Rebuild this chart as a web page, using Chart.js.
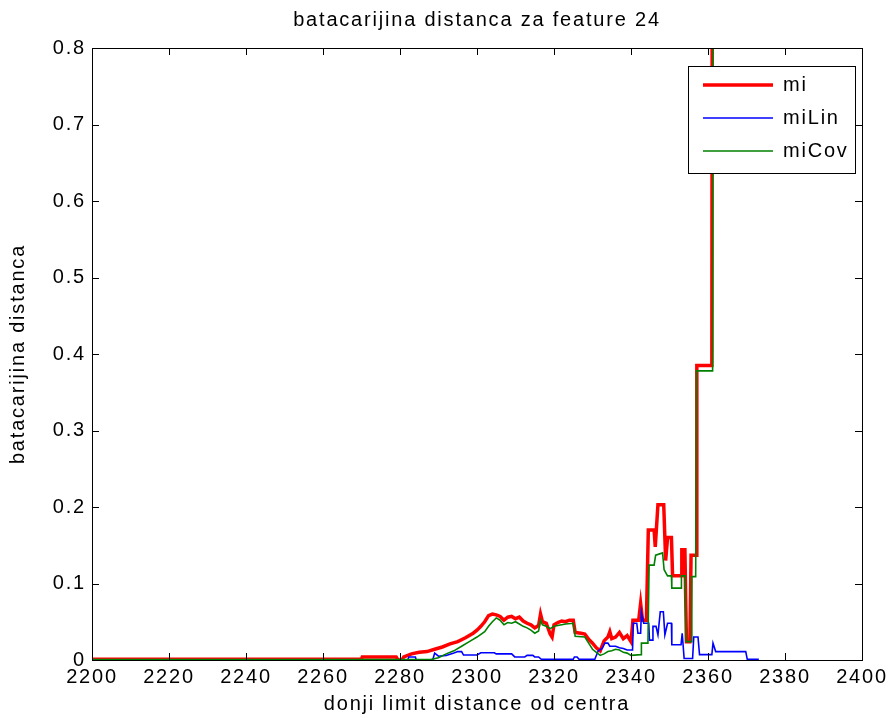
<!DOCTYPE html>
<html>
<head>
<meta charset="utf-8">
<script src="https://cdn.jsdelivr.net/npm/chart.js@4.4.1/dist/chart.umd.min.js"></script>
<style>
  html, body { margin: 0; padding: 0; background: #fff; }
  #wrap { width: 896px; height: 718px; }
</style>
</head>
<body>
<div id="wrap"><canvas id="myChart" width="896" height="718"></canvas></div>
<script>
// data
const seriesNames = ['mi', 'miLin', 'miCov'];
const seriesColors = ['#ff0000', '#0000ff', '#008000'];

const miX = [2200, 2270, 2270.2, 2279, 2279.5, 2280.5, 2281, 2283, 2285, 2287, 2289, 2291, 2293, 2295, 2297, 2299,
  2300, 2301, 2302, 2303, 2304, 2305, 2306, 2307, 2308, 2309, 2310, 2311, 2312, 2313, 2314, 2315, 2316, 2316.5,
  2317, 2318, 2319, 2319.5, 2320, 2321, 2322, 2323, 2324, 2325, 2325.5, 2327, 2328, 2329, 2330, 2331, 2332, 2333,
  2334, 2334.5, 2335, 2336, 2337, 2338, 2339, 2340, 2340.5, 2342, 2342.5, 2343, 2344, 2344.5, 2346, 2346.3, 2347,
  2348.5, 2349, 2349.5, 2350.5, 2350.8, 2353, 2353.2, 2354, 2354.4, 2355.3, 2355.6, 2357, 2357.1, 2361, 2361.1];
const miY = [0.001, 0.001, 0.004, 0.004, 0, 0, 0.004, 0.008, 0.01, 0.011, 0.014, 0.017, 0.021, 0.024, 0.029, 0.035,
  0.039, 0.044, 0.05, 0.058, 0.06, 0.059, 0.057, 0.052, 0.056, 0.057, 0.054, 0.056, 0.051, 0.048, 0.046, 0.042, 0.045, 0.06,
  0.05, 0.048, 0.034, 0.03, 0.046, 0.049, 0.051, 0.05, 0.052, 0.052, 0.036, 0.035, 0.034, 0.027, 0.022, 0.016, 0.012, 0.025,
  0.03, 0.037, 0.028, 0.03, 0.036, 0.028, 0.032, 0.024, 0.052, 0.052, 0.074, 0.052, 0.052, 0.17, 0.17, 0.148, 0.203,
  0.203, 0.13, 0.16, 0.16, 0.11, 0.11, 0.144, 0.144, 0.024, 0.024, 0.137, 0.137, 0.385, 0.385, 0.95];

const linX = [2200, 2282, 2282.3, 2284, 2284.2, 2288.5, 2289, 2290, 2292, 2294, 2295, 2296, 2296.5, 2300, 2301, 2304.5,
  2305, 2309, 2309.8, 2312.4, 2313, 2314.5, 2315, 2316, 2316.7, 2325, 2325.3, 2326, 2326.5, 2330.6, 2331.5, 2332.5,
  2333.2, 2334, 2334.5, 2336, 2337, 2338, 2339, 2340.4, 2340.6, 2341.5, 2341.8, 2342.5, 2342.7, 2343.3, 2344.6, 2344.8,
  2345.5, 2345.7, 2346.5, 2347, 2347.6, 2348.4, 2348.8, 2349.5, 2350.5, 2350.6, 2353, 2353.3, 2353.8, 2356, 2356.3,
  2357.4, 2357.8, 2361, 2361.3, 2362, 2369.8, 2370.2, 2373.2];
const linY = [0, 0, 0.004, 0.004, 0, 0, 0.009, 0.005, 0.006, 0.009, 0.011, 0.011, 0.0065, 0.0065, 0.0095, 0.0095,
  0.008, 0.008, 0.004, 0.004, 0.006, 0.006, 0.004, 0.004, 0.001, 0.001, 0.004, 0.004, 0.001, 0.001, 0.012, 0.015,
  0.022, 0.022, 0.018, 0.018, 0.016, 0.015, 0.013, 0.013, 0.048, 0.048, 0.035, 0.035, 0.063, 0.048, 0.048, 0.026,
  0.026, 0.044, 0.044, 0.033, 0.063, 0.063, 0.033, 0.048, 0.048, 0.02, 0.02, 0.035, 0.002, 0.002, 0.03,
  0.03, 0.007, 0.007, 0.022, 0.011, 0.011, 0.001, 0.001];

const covX = [2200, 2288, 2290, 2292, 2294, 2296, 2298, 2300, 2302, 2303, 2304, 2305, 2306, 2307, 2308, 2309, 2310,
  2311, 2312, 2313, 2314, 2315, 2316, 2316.5, 2317, 2318, 2319, 2320, 2321, 2322, 2323, 2325, 2325.5, 2328, 2329,
  2330, 2331, 2332, 2333, 2334, 2335, 2336, 2337, 2338, 2339, 2340, 2342.6, 2342.7, 2344.4, 2344.7, 2346, 2346.4,
  2348.2, 2348.6, 2349.5, 2350.5, 2350.6, 2353, 2353.1, 2354.1, 2354.3, 2355.6, 2355.8, 2356.8, 2357, 2361.2, 2361.3];
const covY = [0.0005, 0.0005, 0.003, 0.008, 0.012, 0.018, 0.024, 0.03, 0.037, 0.044, 0.05, 0.055, 0.052, 0.046, 0.049, 0.048, 0.05,
  0.047, 0.044, 0.042, 0.039, 0.035, 0.038, 0.052, 0.046, 0.044, 0.041, 0.044, 0.045, 0.046, 0.047, 0.048, 0.031, 0.03, 0.022,
  0.014, 0.01, 0.006, 0.008, 0.011, 0.012, 0.014, 0.013, 0.01, 0.009, 0.006, 0.007, 0.022, 0.022, 0.124, 0.124, 0.137,
  0.14, 0.118, 0.11, 0.11, 0.094, 0.094, 0.11, 0.11, 0.024, 0.024, 0.109, 0.109, 0.378, 0.378, 0.95];

const xTicks = [2200, 2220, 2240, 2260, 2280, 2300, 2320, 2340, 2360, 2380, 2400];
const yTicks = [0, 0.1, 0.2, 0.3, 0.4, 0.5, 0.6, 0.7, 0.8];

const FONT = '"Liberation Sans", Arial, sans-serif';
const SPACING = '1.8px';

function pts(xs, ys) {
  return xs.map((x, i) => ({ x: x, y: ys[i] }));
}

// wider letter spacing, like the exported MATLAB figure
const spacingPlugin = {
  id: 'spacing',
  beforeUpdate(chart) { chart.ctx.letterSpacing = SPACING; },
  beforeLayout(chart) { chart.ctx.letterSpacing = SPACING; },
  beforeDraw(chart) { chart.ctx.letterSpacing = SPACING; }
};

// MATLAB-like box with inward ticks and legend
const boxPlugin = {
  id: 'box',
  afterDatasetsDraw(chart) {
    const { ctx, chartArea: a, scales } = chart;
    ctx.save();
    ctx.strokeStyle = '#000';
    ctx.lineWidth = 1;
    ctx.beginPath();
    const len = 7;
    xTicks.forEach(v => {
      const px = Math.round(scales.x.getPixelForValue(v)) + 0.5;
      ctx.moveTo(px, a.bottom); ctx.lineTo(px, a.bottom - len);
      ctx.moveTo(px, a.top); ctx.lineTo(px, a.top + len);
    });
    yTicks.forEach(v => {
      const py = Math.round(scales.y.getPixelForValue(v)) + 0.5;
      ctx.moveTo(a.left, py); ctx.lineTo(a.left + len, py);
      ctx.moveTo(a.right, py); ctx.lineTo(a.right - len, py);
    });
    ctx.stroke();
    ctx.strokeRect(Math.round(a.left) + 0.5, Math.round(a.top) + 0.5,
      Math.round(a.right - a.left), Math.round(a.bottom - a.top));

    const lx = 688, ly = 66, lw = 167, lh = 107;
    ctx.fillStyle = '#fff';
    ctx.fillRect(lx, ly, lw, lh);
    ctx.strokeRect(lx + 0.5, ly + 0.5, lw, lh);
    ctx.font = '20px ' + FONT;
    ctx.letterSpacing = SPACING;
    ctx.textBaseline = 'middle';
    chart.data.datasets.forEach((ds, i) => {
      const yy = ly + 19 + i * 33;
      ctx.strokeStyle = ds.borderColor;
      ctx.lineWidth = ds.borderWidth;
      ctx.beginPath();
      ctx.moveTo(lx + 15, yy); ctx.lineTo(lx + 85, yy);
      ctx.stroke();
      ctx.fillStyle = '#000';
      ctx.fillText(ds.label, lx + 95, yy);
    });
    ctx.restore();
  }
};

new Chart(document.getElementById('myChart'), {
  type: 'line',
  data: {
    datasets: [
      { label: seriesNames[0], data: pts(miX, miY), borderColor: seriesColors[0], borderWidth: 3.5, order: 3 },
      { label: seriesNames[1], data: pts(linX, linY), borderColor: seriesColors[1], borderWidth: 1.6, order: 2 },
      { label: seriesNames[2], data: pts(covX, covY), borderColor: seriesColors[2], borderWidth: 1.6, order: 1 }
    ]
  },
  options: {
    responsive: false,
    animation: false,
    elements: { point: { radius: 0 }, line: { tension: 0 } },
    layout: { padding: { left: 0, right: 34, top: 0, bottom: 0 } },
    plugins: {
      legend: { display: false },
      tooltip: { enabled: false },
      title: {
        display: true,
        fullSize: false,
        text: 'batacarijina distanca za feature 24',
        color: '#000',
        font: { family: FONT, size: 20, weight: 'normal' },
        padding: { top: 8, bottom: 16 }
      }
    },
    scales: {
      x: {
        type: 'linear',
        min: 2200, max: 2400,
        afterBuildTicks(s) { s.ticks = xTicks.map(v => ({ value: v })); },
        afterFit(s) { s.height = 58; },
        grid: { display: false, drawTicks: false },
        border: { display: false },
        ticks: { color: '#000', padding: 5, maxRotation: 0, font: { family: FONT, size: 20 },
          callback: v => String(v) },
        title: {
          display: true, text: 'donji limit distance od centra', color: '#000',
          font: { family: FONT, size: 20 }, padding: { top: 0, bottom: 2 }
        }
      },
      y: {
        type: 'linear',
        min: 0, max: 0.8,
        afterBuildTicks(s) { s.ticks = yTicks.map(v => ({ value: v })); },
        afterFit(s) { s.width = 92; },
        grid: { display: false, drawTicks: false },
        border: { display: false },
        ticks: { color: '#000', padding: 6, font: { family: FONT, size: 20 },
          callback: v => String(v) },
        title: {
          display: true, text: 'batacarijina distanca', color: '#000',
          font: { family: FONT, size: 20 }, padding: { top: 6, bottom: 0 }
        }
      }
    }
  },
  plugins: [spacingPlugin, boxPlugin]
});
</script>
</body>
</html>
